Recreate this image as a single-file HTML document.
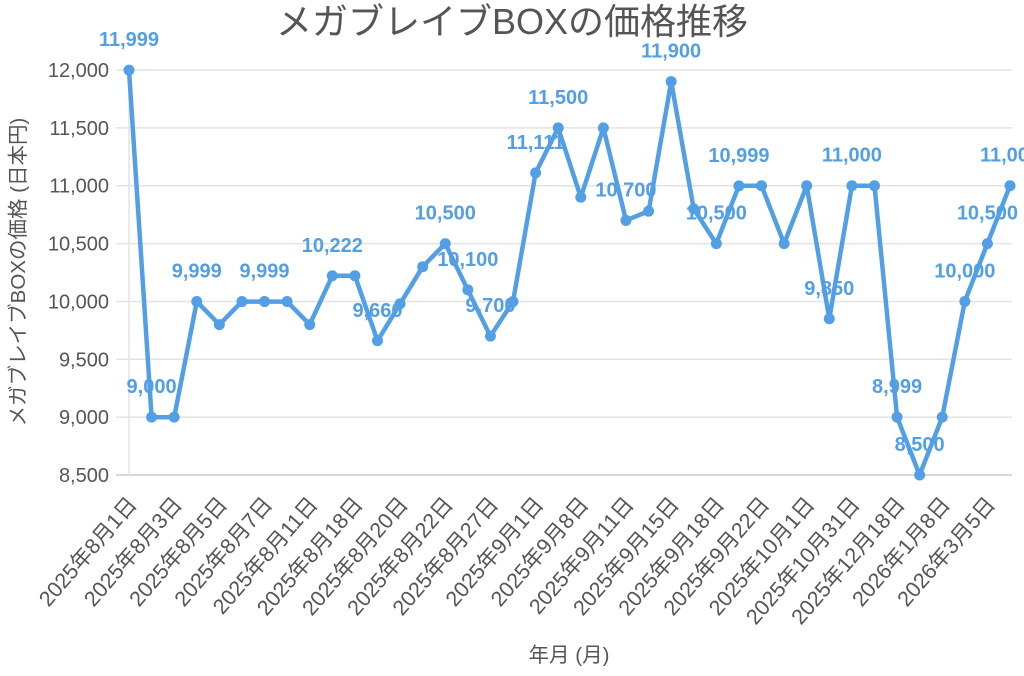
<!DOCTYPE html>
<html><head><meta charset="utf-8"><style>
html,body{margin:0;padding:0;background:#fff;}
svg{display:block;font-family:"Liberation Sans","Noto Sans CJK JP",sans-serif;}
</style></head><body>
<svg id="c" width="1024" height="676" viewBox="0 0 1024 676" xmlns="http://www.w3.org/2000/svg">
<text x="512" y="34" text-anchor="middle" font-size="36" fill="#555">メガブレイブBOXの価格推移</text>
<text transform="translate(25,272) rotate(-90)" text-anchor="middle" font-size="20.5" fill="#555">メガブレイブBOXの価格 (日本円)</text>
<text x="569" y="662" text-anchor="middle" font-size="20.5" fill="#555">年月 (月)</text>
<g id="grid"></g><g id="xl"></g><g id="ser"></g><g id="dl"></g>
</svg>
<script>
var NS="http://www.w3.org/2000/svg";
function el(p,t,a,txt){var e=document.createElementNS(NS,t);for(var k in a)e.setAttribute(k,a[k]);if(txt!=null)e.textContent=txt;document.getElementById(p).appendChild(e);return e;}
function Y(v){return 70+(12000-v)/500*57.86;}
function X(i){return 129+i*(881/39);}
var ticks=["12,000","11,500","11,000","10,500","10,000","9,500","9,000","8,500"];
for(var i=0;i<8;i++){var v=12000-i*500,y=Y(v);
el("grid","line",{x1:116,x2:1012,y1:y,y2:y,stroke:i==7?"#ccc":"#e3e3e3","stroke-width":1.5});
el("grid","text",{x:109,y:y+7,"text-anchor":"end","font-size":20,fill:"#555"},ticks[i]);}
el("grid","line",{x1:129,x2:129,y1:70,y2:475,stroke:"#e3e3e3","stroke-width":1.5});
var d=[11999,9000,9000,9999,9800,9999,9999,9999,9800,10222,10222,9660,9980,10300,10500,10100,9700,9999,11111,11500,10900,11500,10700,10780,11900,10800,10500,10999,11000,10500,11000,9850,11000,11000,9000,8500,9000,10000,10500,11000];
var pts=d.map(function(v,i){return X(i).toFixed(1)+","+Y(v).toFixed(1);}).join(" ");
el("ser","polyline",{points:pts,fill:"none",stroke:"#529fe6","stroke-width":4.5,"stroke-linejoin":"round"});
d.forEach(function(v,i){el("ser","circle",{cx:X(i),cy:Y(d[i]),r:5.5,fill:"#529fe6"});});
var xl=["2025年8月1日","2025年8月3日","2025年8月5日","2025年8月7日","2025年8月11日","2025年8月18日","2025年8月20日","2025年8月22日","2025年8月27日","2025年9月1日","2025年9月8日","2025年9月11日","2025年9月15日","2025年9月18日","2025年9月22日","2025年10月1日","2025年10月31日","2025年12月18日","2026年1月8日","2026年3月5日"];
xl.forEach(function(s,j){var x=X(j*2)+9,y=505;el("xl","text",{transform:"translate("+x+","+y+") rotate(-49)","text-anchor":"end","font-size":21.5,fill:"#555"},s);});
var lab={0:"11,999",1:"9,000",3:"9,999",6:"9,999",9:"10,222",11:"9,660",14:"10,500",15:"10,100",16:"9,700",18:"11,111",19:"11,500",22:"10,700",24:"11,900",26:"10,500",27:"10,999",31:"9,850",32:"11,000",34:"8,999",35:"8,500",37:"10,000",38:"10,500",39:"11,000"};
for(var k in lab){var i=+k;el("dl","text",{x:X(i),y:Y(d[i])-24,"text-anchor":"middle","font-size":20,"font-weight":"bold",fill:"#529fe6"},lab[k]);}
</script>
</body></html>
